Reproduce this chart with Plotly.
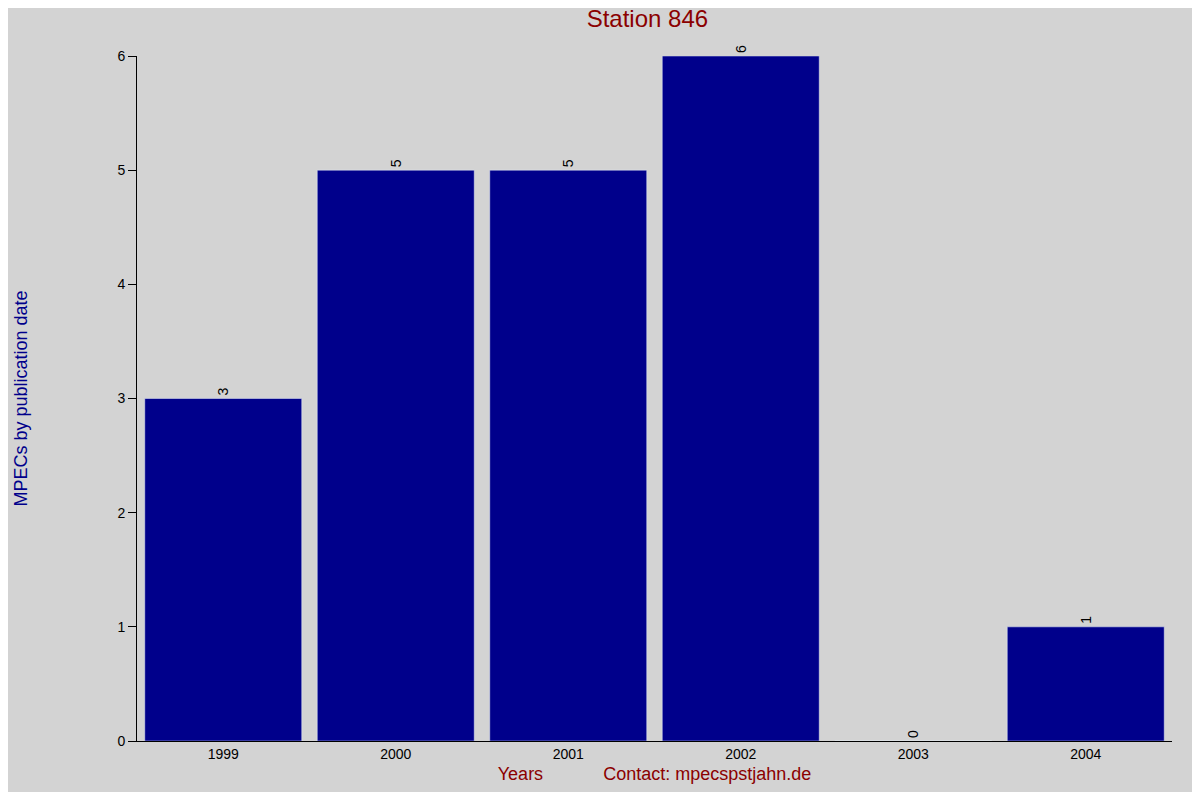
import plotly.graph_objects as go

years = ["1999", "2000", "2001", "2002", "2003", "2004"]
counts = [3, 5, 5, 6, 0, 1]

fig = go.Figure(go.Bar(
    x=years, y=counts, marker_color="#00008b",
    text=[str(c) for c in counts], textposition="outside",
    textangle=-90, textfont=dict(size=14, color="black"),
    cliponaxis=False,
))
fig.update_layout(
    width=1184, height=784,
    paper_bgcolor="#d3d3d3", plot_bgcolor="#d3d3d3",
    font=dict(family="Liberation Sans, Arial", size=14, color="black"),
    margin=dict(l=119, r=20, t=48, b=42),
    bargap=0.09, showlegend=False,
    title=dict(text="Station 846", x=0.54, xanchor="center", y=0.987, yanchor="middle",
               font=dict(size=24, color="#8b0000")),
    xaxis=dict(showline=True, linecolor="black", ticks="", showgrid=False,
               title=dict(text="Years            Contact: mpecspstjahn.de",
                          font=dict(size=18, color="#8b0000"), standoff=6)),
    yaxis=dict(range=[0, 6], showline=True, linecolor="black", ticks="outside",
               ticklen=8, tickcolor="black", showgrid=False, dtick=1, zeroline=False,
               title=dict(text="MPECs by publication date",
                          font=dict(size=18, color="#00008b"), standoff=85)),
)
fig.write_html("out.html")
